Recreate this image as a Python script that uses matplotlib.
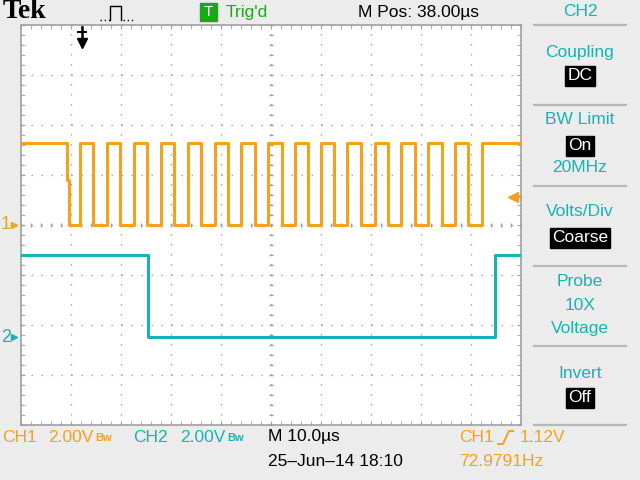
import numpy as np
import matplotlib.pyplot as plt
from matplotlib.ticker import MultipleLocator

plt.rcParams['font.family'] = ['Liberation Sans', 'DejaVu Sans']

ORANGE = '#f4a21d'
TEAL = '#17b3b3'
GREEN = '#1aa81a'
GRID = '#a0a0a0'
BG = '#ececec'

# --- data (time in us from left edge, 10 us/div) ---
volts_per_div = 2.0
ch1_gnd_div = 0.0
ch2_gnd_div = -2.24

ch1_t = [0.0, 9.2, 9.6, 11.8, 14.4, 17.2, 19.8, 22.6, 25.2, 28.0, 30.6,
         33.4, 36.0, 38.8, 41.4, 44.0, 46.8, 49.4, 52.2, 54.8, 57.4,
         60.0, 62.6, 65.2, 68.0, 70.8, 73.4, 76.0, 78.8, 81.4, 84.2,
         86.8, 89.4, 92.2, 100.0]
ch1_v = [3.28, 1.8, 0.0, 3.28, 0.0, 3.28, 0.0, 3.28, 0.0, 3.28, 0.0,
         3.28, 0.0, 3.28, 0.0, 3.28, 0.0, 3.28, 0.0, 3.28, 0.0,
         3.28, 0.0, 3.28, 0.0, 3.28, 0.0, 3.28, 0.0, 3.28, 0.0,
         3.28, 0.0, 3.28, 3.28]

ch2_t = [0.0, 25.4, 94.8, 100.0]
ch2_v = [3.28, 0.0, 3.28, 3.28]

trig_t = 12.2
trig_level = 1.12

menu_title = 'CH2'
menu_items = [('Coupling', 52, False), ('DC', 76, True),
              ('BW Limit', 120, False), ('On', 146, True), ('20MHz', 168, False),
              ('Volts/Div', 212, False), ('Coarse', 238, True),
              ('Probe', 281, False), ('10X', 305, False), ('Voltage', 329, False),
              ('Invert', 373, False), ('Off', 398, True)]
menu_separators = [25, 105, 186, 266, 346, 425]

fig = plt.figure(figsize=(6.4, 4.8), dpi=100, facecolor=BG)

# background layer in pixel coordinates for the labels
bg = fig.add_axes([0, 0, 1, 1])
bg.set_xlim(0, 640)
bg.set_ylim(480, 0)
bg.axis('off')

# graticule
ax = fig.add_axes([21 / 640, 55 / 480, 500 / 640, 400 / 480])
ax.set_facecolor('white')
ax.set_xlim(0, 100)
ax.set_ylim(-4, 4)
ax.xaxis.set_major_locator(MultipleLocator(10))
ax.xaxis.set_minor_locator(MultipleLocator(2))
ax.yaxis.set_major_locator(MultipleLocator(1))
ax.yaxis.set_minor_locator(MultipleLocator(0.2))
ax.tick_params(which='both', direction='in', length=3, color=GRID,
               top=True, right=True, labelbottom=False, labelleft=False)
ax.grid(True, which='major', color=GRID, lw=1.0, ls=(0, (1, 6.2)))
for s in ax.spines.values():
    s.set_color(GRID)
    s.set_linewidth(1.2)

# tick marks on the centre cross
xt = np.arange(0, 100.1, 2)
ax.plot(xt, np.zeros_like(xt), ls='none', marker='|', ms=3.5, color=GRID, mew=1)
yt = np.arange(-4, 4.01, 0.2)
ax.plot(np.full_like(yt, 50), yt, ls='none', marker='_', ms=3.5, color=GRID, mew=1)

# traces
ax.step(ch1_t, np.array(ch1_v) / volts_per_div + ch1_gnd_div, where='post',
        color=ORANGE, lw=2.2, zorder=5)
ax.step(ch2_t, np.array(ch2_v) / volts_per_div + ch2_gnd_div, where='post',
        color=TEAL, lw=2.2, zorder=4)

# trigger level arrow (right) and trigger position marker (top)
trig_div = trig_level / volts_per_div + ch1_gnd_div
ax.plot([98.6, 100], [trig_div, trig_div], color=ORANGE, lw=1.5, clip_on=False)
ax.plot([98.4], [trig_div], marker='<', ms=7, color=ORANGE, clip_on=False)
ax.plot([trig_t, trig_t], [3.95, 3.7], color='black', lw=1.8)
ax.plot([trig_t - 0.8, trig_t + 0.8], [3.86, 3.86], color='black', lw=1.4)
ax.plot([trig_t], [3.64], marker='v', ms=7, color='black')

# channel ground markers
for label, gnd, col in [('1', ch1_gnd_div, ORANGE), ('2', ch2_gnd_div, TEAL)]:
    ax.annotate(label, xy=(0, gnd), xycoords=('axes fraction', 'data'),
                xytext=(-20, 0), textcoords='offset pixels',
                ha='left', va='center', color=col, fontsize=13)
    ax.plot([-1.4], [gnd], marker='>', ms=5, color=col, clip_on=False)

# top bar
bg.text(3, 12, 'Tek', family='Liberation Serif', fontweight='bold',
        fontsize=20, ha='left', va='center')
bg.plot([100, 110], [20, 20], color='black', lw=1, ls=(0, (1, 2)))
bg.plot([110, 110, 121, 121], [20, 6, 6, 20], color='black', lw=1)
bg.plot([123, 135], [20, 20], color='black', lw=1, ls=(0, (1, 2)))
bg.add_patch(plt.Rectangle((200, 3), 17, 18, color=GREEN))
bg.text(208.5, 12.5, 'T', color='white', fontsize=11, ha='center', va='center')
bg.text(226, 12, "Trig'd", color=GREEN, fontsize=12.5, ha='left', va='center')
bg.text(358, 12, 'M Pos: 38.00\u00b5s', fontsize=12.5, ha='left', va='center')

# right menu
bg.text(580, 12, menu_title, color=TEAL, fontsize=12.5, ha='center', va='center')
for y in menu_separators:
    bg.plot([534, 626], [y, y], color='#b8b8b8', lw=1.6)
for label, y, boxed in menu_items:
    if boxed:
        bg.text(580, y, label, color='white', fontsize=12.5, ha='center', va='center',
                bbox=dict(boxstyle='square,pad=0.12', fc='black', ec='black'))
    else:
        bg.text(580, y, label, color=TEAL, fontsize=12.5, ha='center', va='center')

# bottom status lines
bg.text(2, 437, 'CH1', color=ORANGE, fontsize=12.5, ha='left', va='center')
bg.text(48, 437, '2.00V', color=ORANGE, fontsize=12.5, ha='left', va='center')
bg.text(95, 438, 'Bw', color=ORANGE, fontsize=8, fontweight='bold', ha='left', va='center')
bg.text(133, 437, 'CH2', color=TEAL, fontsize=12.5, ha='left', va='center')
bg.text(180, 437, '2.00V', color=TEAL, fontsize=12.5, ha='left', va='center')
bg.text(227, 438, 'Bw', color=TEAL, fontsize=8, fontweight='bold', ha='left', va='center')
bg.text(268, 437, 'M 10.0\u00b5s', fontsize=12.5, ha='left', va='center')
bg.text(268, 461, '25\u2013Jun\u201314 18:10', fontsize=12.5, ha='left', va='center')
bg.text(459, 437, 'CH1', color=ORANGE, fontsize=12.5, ha='left', va='center')
bg.plot([498, 503, 509, 513], [444, 444, 431, 431], color=ORANGE, lw=1.4)
bg.text(520, 437, '1.12V', color=ORANGE, fontsize=12.5, ha='left', va='center')
bg.text(459, 461, '72.9791Hz', color=ORANGE, fontsize=12.5, ha='left', va='center')

fig.savefig('out.png', dpi=100, facecolor=BG)
